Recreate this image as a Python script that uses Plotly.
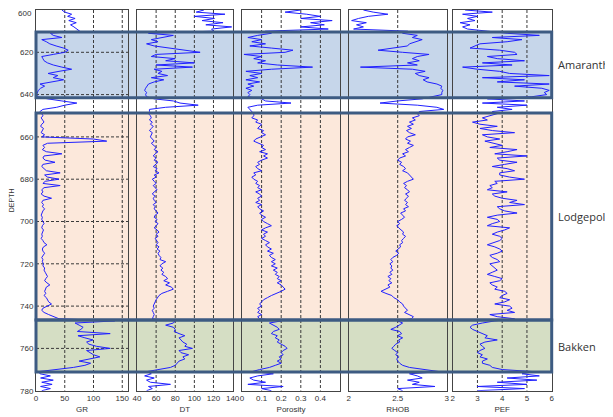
import plotly.graph_objects as go

# The page body has an 8 px default margin, so the figure is sized to fill
# the rest of the 613x417 window exactly.
WIN_W, WIN_H = 613, 417
OFF = 8
W, H = WIN_W - OFF, WIN_H - OFF

DEPTH = list(range(600, 781))

GR = [45, 50, 62, 55, 68, 57, 70, 60, 66, 72,
      76, 25, 30, 45, 10, 18, 24, 35, 48, 56,
      50, 30, 10, 12, 14, 20, 30, 45, 62, 40,
      21, 38, 30, 48, 25, 7, 15, 8, 4, 2,
      1, 3, 20, 45, 71, 50, 36, 12, 7, 10,
      12, 9, 11, 14, 10, 8, 13, 11, 9, 15,
      10, 100, 123, 20, 12, 15, 11, 18, 45, 14,
      12, 16, 33, 12, 10, 14, 18, 42, 15, 20,
      40, 16, 12, 42, 14, 10, 12, 9, 14, 27,
      12, 10, 13, 11, 15, 12, 10, 9, 11, 10,
      12, 14, 11, 10, 13, 12, 10, 11, 9, 12,
      14, 19, 13, 11, 12, 15, 13, 10, 12, 11,
      13, 12, 15, 14, 16, 18, 20, 17, 15, 19,
      24, 18, 16, 15, 17, 14, 18, 20, 22, 27,
      18, 12, 10, 14, 22, 30, 40, 137, 68, 75,
      82, 78, 72, 129, 73, 85, 99, 88, 92, 105,
      129, 88, 95, 100, 111, 90, 75, 95, 85, 65,
      35, 4, 7, 25, 8, 30, 10, 28, 8, 25,
      10]

DT = [110, 102, 132, 100, 121, 108, 130, 112, 139, 118,
      120, 52, 78, 65, 55, 62, 50, 58, 75, 90,
      106, 60, 55, 80, 70, 100, 60, 98, 58, 66,
      62, 72, 55, 68, 58, 52, 50, 49, 48, 50,
      49, 50, 58, 78, 85, 104, 70, 53, 53, 52,
      54, 55, 53, 56, 54, 57, 55, 53, 56, 55,
      54, 56, 58, 55, 57, 60, 58, 62, 59, 57,
      60, 58, 62, 60, 57, 61, 59, 63, 58, 60,
      56, 58, 60, 57, 59, 61, 58, 56, 59, 57,
      58, 60, 57, 59, 58, 60, 62, 59, 58, 61,
      59, 62, 60, 58, 61, 63, 60, 62, 59, 61,
      62, 60, 63, 61, 64, 62, 63, 65, 64, 70,
      66, 64, 67, 65, 68, 66, 70, 72, 68, 74,
      70, 76, 78, 72, 66, 63, 61, 60, 59, 58,
      57, 58, 56, 57, 58, 57, 56, 80, 78, 70,
      78, 80, 79, 84, 90, 84, 86, 88, 92, 90,
      98, 84, 86, 94, 88, 90, 84, 82, 80, 75,
      62, 50, 55, 48, 58, 50, 54, 75, 52, 56,
      50]

POROSITY = [0.30, 0.22, 0.33, 0.40, 0.30, 0.46, 0.35, 0.42, 0.30, 0.44,
            0.12, 0.15, 0.08, 0.03, 0.10, 0.05, 0.12, 0.04, 0.15, 0.26,
            0.22, 0.01, 0.10, 0.06, 0.12, 0.08, 0.18, 0.36, 0.15, 0.02,
            0.10, 0.04, 0.08, 0.02, 0.09, 0.03, 0.06, 0.02, 0.05, 0.03,
            0.04, 0.03, 0.10, 0.12, 0.25, 0.08, 0.03, 0.04, 0.05, 0.06,
            0.06, 0.05, 0.08, 0.07, 0.10, 0.09, 0.08, 0.11, 0.10, 0.12,
            0.09, 0.07, 0.06, 0.09, 0.11, 0.10, 0.12, 0.09, 0.13, 0.11,
            0.13, 0.10, 0.08, 0.09, 0.07, 0.08, 0.10, 0.06, 0.07, 0.05,
            0.06, 0.08, 0.07, 0.09, 0.08, 0.10, 0.07, 0.09, 0.10, 0.08,
            0.09, 0.07, 0.10, 0.08, 0.09, 0.11, 0.09, 0.10, 0.12, 0.10,
            0.11, 0.13, 0.15, 0.12, 0.10, 0.13, 0.11, 0.12, 0.10, 0.12,
            0.14, 0.12, 0.13, 0.15, 0.13, 0.16, 0.14, 0.15, 0.17, 0.15,
            0.17, 0.15, 0.18, 0.16, 0.18, 0.17, 0.19, 0.18, 0.20, 0.18,
            0.20, 0.21, 0.22, 0.20, 0.17, 0.15, 0.13, 0.11, 0.10, 0.09,
            0.10, 0.08, 0.09, 0.08, 0.10, 0.08, 0.09, 0.20, 0.14, 0.16,
            0.18, 0.19, 0.16, 0.15, 0.18, 0.17, 0.19, 0.18, 0.20, 0.22,
            0.23, 0.21, 0.20, 0.21, 0.19, 0.20, 0.18, 0.20, 0.17, 0.14,
            0.09, 0.05, 0.16, 0.08, 0.04, 0.06, 0.12, 0.03, 0.21, 0.10,
            0.15]

RHOB = [2.15, 2.25, 2.40, 2.20, 2.10, 2.03, 2.18, 2.08, 2.15, 2.05,
        2.60, 2.55, 2.70, 2.65, 2.75, 2.68, 2.62, 2.60, 2.45, 2.30,
        2.55, 2.82, 2.70, 2.65, 2.72, 2.60, 2.70, 2.12, 2.65, 2.78,
        2.68, 2.72, 2.82, 2.76, 2.80, 2.90, 2.95, 2.94, 2.96, 2.95,
        2.95, 2.85, 2.75, 2.50, 2.32, 2.70, 2.90, 2.97, 2.72, 2.70,
        2.72, 2.65, 2.68, 2.62, 2.66, 2.60, 2.64, 2.59, 2.62, 2.68,
        2.60, 2.58, 2.63, 2.60, 2.66, 2.62, 2.58, 2.61, 2.55, 2.58,
        2.52, 2.50, 2.54, 2.52, 2.56, 2.58, 2.55, 2.60, 2.62, 2.64,
        2.66, 2.60, 2.56, 2.59, 2.57, 2.60, 2.62, 2.58, 2.61, 2.59,
        2.57, 2.60, 2.58, 2.61, 2.56, 2.58, 2.53, 2.55, 2.57, 2.54,
        2.50, 2.52, 2.49, 2.51, 2.54, 2.56, 2.55, 2.58, 2.56, 2.54,
        2.55, 2.52, 2.53, 2.50, 2.48, 2.51, 2.49, 2.45, 2.43, 2.45,
        2.42, 2.44, 2.43, 2.45, 2.42, 2.44, 2.40, 2.43, 2.41, 2.44,
        2.40, 2.42, 2.38, 2.33, 2.38, 2.44, 2.46, 2.50, 2.52, 2.55,
        2.56, 2.58, 2.60, 2.57, 2.62, 2.66, 2.64, 2.50, 2.55, 2.52,
        2.48, 2.43, 2.52, 2.54, 2.50, 2.55, 2.51, 2.52, 2.48, 2.46,
        2.44, 2.47, 2.50, 2.48, 2.51, 2.49, 2.50, 2.52, 2.55, 2.62,
        2.80, 2.93, 2.62, 2.70, 2.75, 2.60, 2.72, 2.65, 2.88, 2.50,
        2.55]

PEF = [2.5, 3.6, 2.4, 3.0, 2.6, 2.9, 2.3, 2.7, 2.4, 2.6,
       3.4, 4.2, 5.5, 3.6, 4.8, 4.2, 3.1, 2.9, 2.7, 3.9,
       4.5, 4.6, 3.4, 3.8, 4.9, 3.2, 4.4, 2.4, 3.0, 3.9,
       4.3, 5.9, 3.2, 4.9, 3.8, 5.9, 4.5, 5.6, 5.9, 5.7,
       5.8, 5.2, 3.4, 4.9, 3.2, 5.0, 3.8, 4.4, 3.6, 3.8,
       3.5, 3.2, 3.4, 2.8, 3.1, 3.8, 3.1, 3.6, 4.5, 3.2,
       3.4, 3.9, 3.3, 3.6, 4.0, 3.5, 4.6, 4.2, 3.7, 5.0,
       3.8, 3.9, 4.6, 4.1, 3.6, 4.2, 4.5, 3.9, 3.9, 4.3,
       4.9, 3.7, 3.8, 3.5, 3.6, 3.4, 4.2, 3.6, 3.7, 4.0,
       4.6, 4.3, 4.9, 3.8, 3.9, 4.1, 4.6, 3.8, 3.4, 3.8,
       3.9, 3.6, 3.4, 4.3, 4.1, 3.8, 3.6, 3.9, 4.0, 3.9,
       3.6, 3.4, 3.7, 3.9, 4.0, 3.8, 3.5, 3.6, 3.8, 3.9,
       3.5, 3.6, 3.7, 3.8, 3.6, 3.4, 3.7, 4.0, 3.9, 3.5,
       3.6, 3.8, 3.7, 4.1, 4.2, 4.0, 3.9, 4.3, 4.1, 3.7,
       4.3, 4.4, 4.2, 4.5, 3.5, 3.8, 4.5, 3.7, 3.2, 2.8,
       2.7, 2.8, 3.0, 3.2, 3.4, 3.3, 3.8, 3.3, 3.1, 3.2,
       3.3, 3.1, 3.0, 3.2, 3.1, 3.4, 3.2, 3.2, 3.5, 3.6,
       4.0, 5.3, 4.8, 5.5, 4.2, 5.4, 3.8, 5.0, 3.0, 4.9,
       3.0]

TRACK_NAMES = ["GR", "DT", "Porosity", "RHOB", "PEF"]
TRACK_RANGES = [[0, 160], [40, 140], [0, 0.5], [2, 3], [2, 6]]
TRACK_TICKS = [[0, 50, 100, 150], [40, 60, 80, 100, 120, 140],
               [0, 0.1, 0.2, 0.3, 0.4], [2, 2.5, 3], [2, 3, 4, 5, 6]]
TRACK_TICKTEXT = [["0", "50", "100", "150"], ["40", "60", "80", "100", "120", "140"],
                  ["0", "0.1", "0.2", "0.3", "0.4"], ["2", "2.5", "3"],
                  ["2", "3", "4", "5", "6"]]
TRACK_GRID = [[50, 100, 150], [60, 80, 100, 120], [0.1, 0.2, 0.3, 0.4], [2.5], [3, 4, 5]]
CURVES = [GR, DT, POROSITY, RHOB, PEF]

DEPTH_TOP_LABEL = 600
DEPTH_TICKS = [620, 640, 660, 680, 700, 720, 740, 760, 780]
DEPTH_GRID = [620, 640, 660, 680, 700, 720, 740, 760]

ZONE_NAMES = ["Amaranth", "Lodgepole", "Bakken"]
ZONE_TOPS = [610.4, 648.7, 746.6]
ZONE_BASES = [641.5, 746.6, 771.2]
ZONE_COLORS = ["#c6d6ea", "#fce8db", "#d5dec4"]

# pixel layout in window coordinates
PX_X = [(36, 128), (137, 232.6), (242, 340), (348.7, 446.7), (452.7, 551.7)]
PX_TOP, PX_BOT = 10, 390.7


def fx(p):
    return (p - OFF) / W


def fy(p):
    return (WIN_H - p) / H


fig = go.Figure()

ydom = [fy(PX_BOT), fy(PX_TOP)]
font_tick = dict(family="Liberation Sans, Arial", size=8, color="#333333")
GRID_LINE = dict(color="#3a3a3a", width=1, dash="3px,2px")

shapes = []
x0 = fx(PX_X[0][0])
x1 = fx(PX_X[-1][1])
for top, base, col in zip(ZONE_TOPS, ZONE_BASES, ZONE_COLORS):
    shapes.append(dict(type="rect", xref="paper", yref="y", x0=x0, x1=x1, y0=top, y1=base,
                       fillcolor=col, line=dict(width=0), layer="below"))

for i, (name, rng, ticks, ttext, grid, curve) in enumerate(
        zip(TRACK_NAMES, TRACK_RANGES, TRACK_TICKS, TRACK_TICKTEXT, TRACK_GRID, CURVES)):
    k = "" if i == 0 else str(i + 1)
    fig.add_trace(go.Scatter(
        x=curve, y=DEPTH, mode="lines",
        line=dict(color="#2020ff", width=1),
        xaxis="x" + k, yaxis="y" + k, showlegend=False, hoverinfo="skip"))
    fig.layout["xaxis" + k] = dict(
        domain=[fx(PX_X[i][0]), fx(PX_X[i][1])],
        range=rng, anchor="y" + k, side="bottom", automargin=False,
        tickvals=ticks, ticktext=ttext, tickfont=font_tick,
        ticklabeloverflow="allow",
        showgrid=False,
        showline=True, linecolor="#444444", linewidth=1, mirror=True,
        ticks="", zeroline=False,
        title=dict(text=name, font=dict(family="Liberation Sans, Arial", size=8, color="#333333"),
                   standoff=4),
    )
    for g in grid:
        shapes.append(dict(type="line", xref="x" + k, yref="y" + k, x0=g, x1=g, y0=600, y1=780,
                           line=GRID_LINE, layer="below"))
    ya = dict(
        domain=ydom, range=[780, 600], anchor="x" + k, automargin=False,
        showline=True, linecolor="#444444", linewidth=1, mirror=True,
        zeroline=False, ticks="", showgrid=False,
    )
    if i == 0:
        ya.update(tickvals=DEPTH_TICKS, tickfont=font_tick, ticklabeloverflow="allow",
                  title=dict(text="DEPTH", font=dict(family="Liberation Sans, Arial", size=7, color="#333333"),
                             standoff=4))
    else:
        ya.update(showticklabels=False, matches="y")
    fig.layout["yaxis" + k] = ya

for d in DEPTH_GRID:
    shapes.append(dict(type="line", xref="x", yref="y", x0=0, x1=160, y0=d, y1=d,
                       line=GRID_LINE, layer="below"))

for top, base in zip(ZONE_TOPS, ZONE_BASES):
    shapes.append(dict(type="rect", xref="paper", yref="y", x0=x0, x1=x1, y0=top, y1=base,
                       fillcolor="rgba(0,0,0,0)", line=dict(color="#3d5b82", width=3), layer="above"))

annotations = []
for name, top, base in zip(ZONE_NAMES, ZONE_TOPS, ZONE_BASES):
    annotations.append(dict(text=name, xref="paper", yref="y", x=fx(556), y=(top + base) / 2,
                            xanchor="left", yanchor="middle", showarrow=False,
                            font=dict(family="Open Sans, Noto Sans", size=11, color="#333333")))

# top depth label, kept just inside the page edge
annotations.append(dict(text=str(DEPTH_TOP_LABEL), xref="paper", yref="paper",
                        x=fx(33), y=1.0, xanchor="right", yanchor="top", showarrow=False,
                        borderpad=0, font=font_tick))

fig.update_layout(
    width=W, height=H,
    margin=dict(l=0, r=0, t=0, b=0, autoexpand=False),
    paper_bgcolor="white", plot_bgcolor="rgba(0,0,0,0)",
    shapes=shapes, annotations=annotations, showlegend=False,
)

fig.write_html("out.html")
